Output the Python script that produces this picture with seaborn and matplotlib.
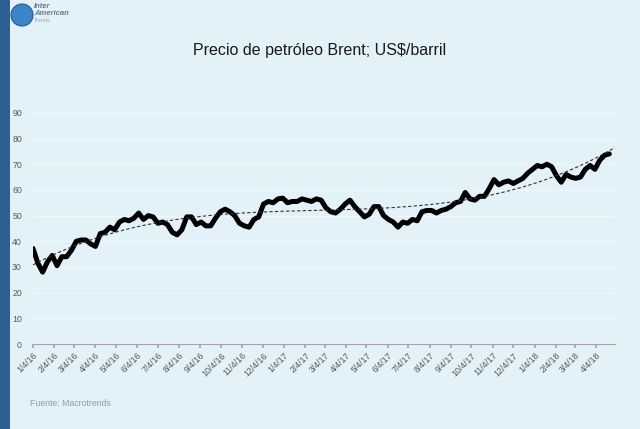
import numpy as np
import pandas as pd
import matplotlib
matplotlib.use("Agg")
import matplotlib.pyplot as plt
import matplotlib.dates as mdates
import seaborn as sns
from matplotlib.patches import Rectangle, Ellipse

# ---- data (weekly Brent, US$/barrel) ----
start_date = "2016-01-04"
prices = [
    37.2, 31.5, 28.0, 32.0, 34.5, 30.5, 34.0, 34.0, 36.5, 40.0, 40.5, 40.5, 39.0,
    38.0, 43.0, 43.5, 45.5, 44.5, 47.5, 48.5, 48.0, 49.0, 51.0, 48.5, 50.0, 49.5,
    47.0, 47.5, 46.5, 43.5, 42.5, 44.5, 49.5, 49.5, 46.5, 47.5, 46.0, 46.0, 49.0,
    51.5, 52.5, 51.5, 50.0, 47.0, 46.0, 45.5, 48.5, 49.5, 54.5, 55.5, 55.0, 56.5,
    56.8, 55.0, 55.5, 55.5, 56.5, 56.0, 55.5, 56.5, 56.0, 53.0, 51.5, 51.0, 52.5,
    54.5, 56.0, 53.5, 51.5, 49.5, 50.5, 53.5, 53.5, 50.0, 48.5, 47.5, 45.5, 47.5,
    47.0, 48.5, 48.0, 51.5, 52.0, 52.0, 51.0, 52.0, 52.5, 53.5, 55.0, 55.5, 59.0,
    56.5, 56.0, 57.5, 57.5, 60.5, 64.0, 62.0, 63.0, 63.5, 62.5, 63.5, 64.5, 66.5,
    68.0, 69.5, 69.0, 70.0, 69.0, 65.5, 63.0, 66.0, 65.0, 64.5, 65.0, 68.0, 69.5,
    68.0, 71.5, 73.5, 74.0,
]
tick_labels = ["1/4/16", "2/4/16", "3/4/16", "4/4/16", "5/4/16", "6/4/16", "7/4/16",
               "8/4/16", "9/4/16", "10/4/16", "11/4/16", "12/4/16", "1/4/17", "2/4/17",
               "3/4/17", "4/4/17", "5/4/17", "6/4/17", "7/4/17", "8/4/17", "9/4/17",
               "10/4/17", "11/4/17", "12/4/17", "1/4/18", "2/4/18", "3/4/18", "4/4/18"]
title = "Precio de petróleo Brent; US$/barril"
source = "Fuente: Macrotrends"

dates = pd.date_range(start_date, periods=len(prices), freq="7D")
df = pd.DataFrame({"fecha": dates, "precio": prices})

bg = "#e3f1f8"
sns.set_theme(style="white")
plt.rcParams["font.family"] = ["Liberation Sans", "DejaVu Sans"]

fig = plt.figure(figsize=(6.4, 4.29), dpi=100, facecolor=bg)
ax = fig.add_axes([0.0516, 0.198, 0.909, 0.539], facecolor=bg)

# left dark bar and logo
fig.patches.append(Rectangle((0, 0), 0.016, 1, transform=fig.transFigure,
                             facecolor="#2c5f92", edgecolor="none", zorder=0))
fig.patches.append(Ellipse((22 / 640, 1 - 15 / 429), 22 / 640, 22 / 429,
                           transform=fig.transFigure,
                           facecolor="#3c86c8", edgecolor="#1f5a96", lw=0.8))
fig.text(34 / 640, 1 - 10 / 429, "Inter\nAmerican", fontsize=5.5, color="#6d7c88",
         style="italic", fontweight="bold", va="center", linespacing=0.9)
fig.text(34 / 640, 1 - 21 / 429, "Trends", fontsize=4, color="#9aa8b2", va="center")

sns.lineplot(data=df, x="fecha", y="precio", ax=ax, color="black",
             linewidth=3.6, legend=False)

# polynomial trend (3rd order) computed from the data
xnum = mdates.date2num(df["fecha"])
coef = np.polyfit(xnum - xnum[0], df["precio"], 3)
xt = np.linspace(xnum[0], mdates.date2num(pd.Timestamp("2018-05-01")), 300)
ax.plot(mdates.num2date(xt), np.polyval(coef, xt - xnum[0]),
        color="#333333", lw=0.8, ls=(0, (3, 2)))

tick_dates = pd.date_range("2016-01-01", periods=len(tick_labels), freq="MS") + pd.Timedelta(days=3)
ax.set_xticks(tick_dates)
ax.set_xticklabels(tick_labels, rotation=45, ha="right", rotation_mode="anchor",
                   fontsize=6.3, color="#595959")
ax.set_xlim(pd.Timestamp("2016-01-04"), pd.Timestamp("2018-05-01"))
ax.set_ylim(0, 90)
ax.set_yticks(range(0, 91, 10))
ax.tick_params(axis="y", labelsize=6.3, labelcolor="#595959", length=0, pad=8)
ax.tick_params(axis="x", length=3, color="#a6a6a6", bottom=True, pad=2)
ax.grid(axis="y", color="#f1f8fc", lw=0.8)
ax.set_axisbelow(True)
for s in ["top", "right", "left"]:
    ax.spines[s].set_visible(False)
ax.spines["bottom"].set_color("#a6a6a6")
ax.spines["bottom"].set_linewidth(0.8)
ax.set_xlabel("")
ax.set_ylabel("")

fig.text(0.5, 0.883, title, ha="center", va="center", fontsize=11.5, color="#1a1a1a")
fig.text(0.047, 0.06, source, ha="left", va="center", fontsize=6.3, color="#8c9ba8")

fig.savefig("out.png", dpi=100, facecolor=bg)
